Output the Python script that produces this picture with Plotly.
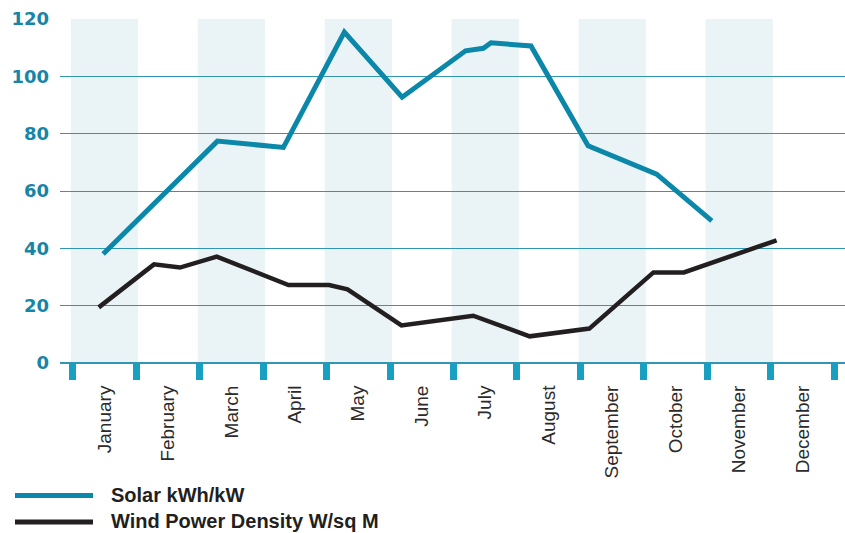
import plotly.graph_objects as go

months = ["January", "February", "March", "April", "May", "June",
          "July", "August", "September", "October", "November", "December"]

# Month axis: month i spans [i, i+1]; positions are in fractional months
solar_x = [0.48, 2.28, 3.32, 4.28, 5.19, 6.19, 6.47, 6.59, 7.22, 8.12, 9.20, 10.07]
solar_y = [38.0, 77.4, 75.2, 115.4, 92.7, 108.9, 109.8, 111.7, 110.6, 75.8, 65.9, 49.6]

wind_x = [0.41, 1.28, 1.69, 2.27, 3.40, 4.04, 4.33, 5.18, 6.31, 7.20, 8.14, 9.15, 9.63, 11.09]
wind_y = [19.4, 34.4, 33.3, 37.1, 27.2, 27.2, 25.7, 13.1, 16.5, 9.3, 12.0, 31.6, 31.6, 42.8]

y_ticks = [0, 20, 40, 60, 80, 100, 120]

series_names = ["Solar kWh/kW", "Wind Power Density W/sq M"]

TEAL = "#0b87a9"
BLACK = "#231f20"
GRID = "#3196b5"
TICKBAR = "#17a0c2"
BAND = "#eaf4f7"

W, H = 845, 533
ML, MR, MT, MB = 60, 0, 19, 170
plot_w = W - ML - MR
plot_h = H - MT - MB

fig = go.Figure()

fig.add_trace(go.Scatter(x=solar_x, y=solar_y, mode="lines",
                         line=dict(color=TEAL, width=5, shape="linear"),
                         name=series_names[0], showlegend=False))
fig.add_trace(go.Scatter(x=wind_x, y=wind_y, mode="lines",
                         line=dict(color=BLACK, width=4.5),
                         name=series_names[1], showlegend=False))

shapes = []
# alternating month bands (Jan, Mar, May, ...)
for i in range(0, 12, 2):
    shapes.append(dict(type="rect", xref="x", yref="y",
                       x0=i - 0.03, x1=i + 1.03, y0=0, y1=120,
                       fillcolor=BAND, line=dict(width=0), layer="below"))


def px_to_paper_x(px):
    return (px - ML) / plot_w


def px_to_paper_y(py):
    return (H - MB - py) / plot_h


# hand-drawn legend below the axis
legend_rows = [(series_names[0], TEAL, 495.5), (series_names[1], BLACK, 522.0)]
annotations = []
for name, color, py in legend_rows:
    shapes.append(dict(type="line", xref="paper", yref="paper",
                       x0=px_to_paper_x(15), x1=px_to_paper_x(93),
                       y0=px_to_paper_y(py), y1=px_to_paper_y(py),
                       line=dict(color=color, width=5)))
    annotations.append(dict(xref="paper", yref="paper",
                            x=px_to_paper_x(109), y=px_to_paper_y(py - 1),
                            xanchor="left", yanchor="middle", showarrow=False,
                            text=name,
                            font=dict(family="Liberation Sans, Arial, sans-serif",
                                      size=20, color="#231f20", weight="bold")))

x_left = -0.2
x_right = x_left + plot_w / 63.47

fig.update_layout(
    width=W, height=H,
    margin=dict(l=ML, r=MR, t=MT, b=MB, pad=0),
    paper_bgcolor="white", plot_bgcolor="white",
    shapes=shapes, annotations=annotations,
    showlegend=False,
    xaxis=dict(
        range=[x_left, x_right],
        tickvals=[i + 0.5 for i in range(12)],
        ticktext=months,
        tickangle=-90,
        ticks="outside", ticklen=14, tickcolor="rgba(0,0,0,0)", tickwidth=1,
        tickfont=dict(family="Liberation Sans, Arial, sans-serif", size=19, color="#2b2b2b"),
        showgrid=False, zeroline=False, showline=False,
        minor=dict(tickvals=list(range(13)), ticks="outside", ticklen=16,
                   tickwidth=7, tickcolor=TICKBAR, showgrid=False),
        fixedrange=True,
    ),
    yaxis=dict(
        range=[0, 120],
        tickvals=y_ticks,
        showgrid=True, gridcolor=GRID, gridwidth=1.3,
        zeroline=True, zerolinecolor=GRID, zerolinewidth=1.5,
        showline=False,
        ticks="", ticklabelstandoff=10,
        tickfont=dict(family="DejaVu Sans, sans-serif", size=18, color="#1585a8", weight="bold"),
        fixedrange=True,
    ),
)

fig.write_html("out.html")
